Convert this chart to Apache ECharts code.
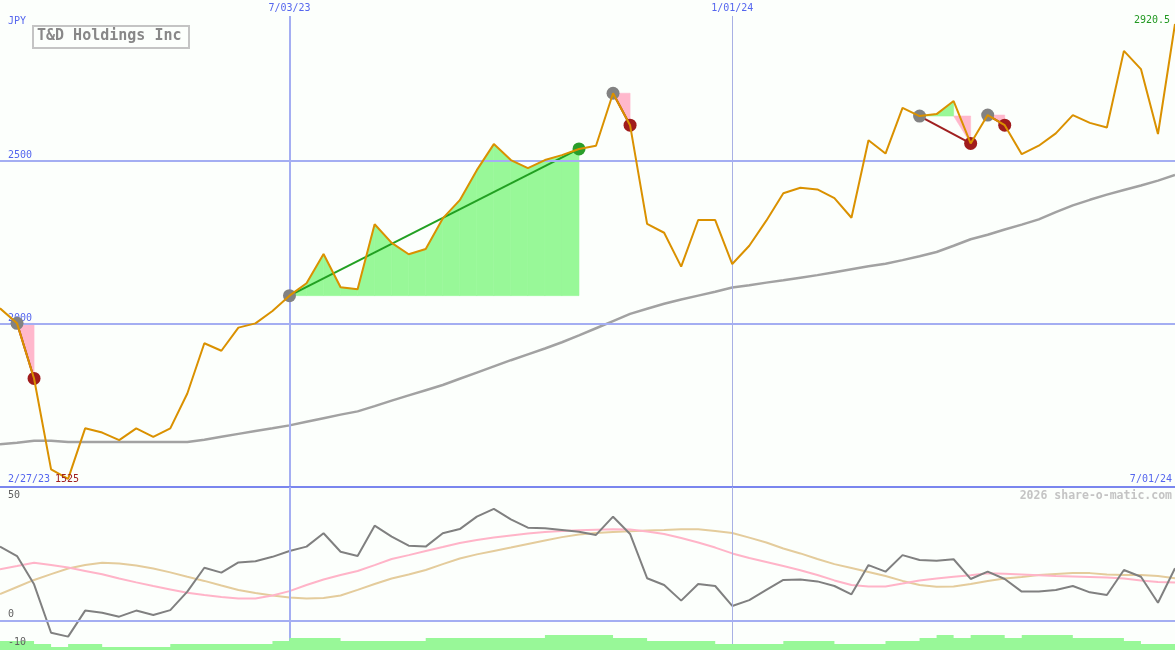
<!DOCTYPE html>
<html><head><meta charset="utf-8">
<script src="https://cdn.jsdelivr.net/npm/echarts@6/dist/echarts.min.js"></script>
<style>html,body{margin:0;padding:0;background:#fcfffc}#c{width:1175px;height:650px}</style>
</head><body><div id="c"></div>
<script>
// ---- data (weekly) ----
const dates = ['3/06/23','3/13/23','3/20/23','3/27/23','4/03/23','4/10/23','4/17/23','4/24/23','5/01/23','5/08/23',
'5/15/23','5/22/23','5/29/23','6/05/23','6/12/23','6/19/23','6/26/23','7/03/23','7/10/23','7/17/23',
'7/24/23','7/31/23','8/07/23','8/14/23','8/21/23','8/28/23','9/04/23','9/11/23','9/18/23','9/25/23',
'10/02/23','10/09/23','10/16/23','10/23/23','10/30/23','11/06/23','11/13/23','11/20/23','11/27/23','12/04/23',
'12/11/23','12/18/23','12/25/23','1/01/24','1/08/24','1/15/24','1/22/24','1/29/24','2/05/24','2/12/24',
'2/19/24','2/26/24','3/04/24','3/11/24','3/18/24','3/25/24','4/01/24','4/08/24','4/15/24','4/22/24',
'4/29/24','5/06/24','5/13/24','5/20/24','5/27/24','6/03/24','6/10/24','6/17/24','6/24/24','7/01/24'];
const price = [2048,2002,1833,1554,1525,1680,1667,1644,1680,1654,
1680,1787,1941,1918,1989,2002,2040,2087,2125,2215,
2113,2107,2306,2249,2214,2230,2324,2380,2472,2552,
2503,2478,2503,2518,2537,2547,2708,2610,2307,2280,
2176,2319,2319,2184,2240,2317,2401,2418,2413,2386,
2326,2564,2523,2663,2638,2644,2684,2554,2641,2610,
2521,2547,2585,2641,2617,2603,2838,2782,2583,2920.5];
const movingAvg = [1631,1636,1642,1642,1638,1638,1638,1638,1638,1638,
1638,1638,1645,1654,1663,1672,1680,1689,1700,1711,
1722,1732,1748,1765,1781,1797,1813,1832,1851,1870,
1889,1907,1925,1944,1965,1987,2009,2031,2047,2062,
2075,2087,2099,2112,2119,2127,2134,2142,2150,2159,
2168,2177,2185,2196,2208,2221,2240,2260,2274,2290,
2305,2321,2343,2364,2381,2397,2411,2425,2440,2457];
const oscGray = [30.5,26.6,15,-4.9,-6.5,4.2,3.3,1.7,4.2,2.4,
4.4,12,21.8,19.8,24,24.5,26.3,28.7,30.5,36,
28.4,26.6,39.1,34.6,30.9,30.5,36,37.7,42.8,46,
41.7,38.3,38,37.3,36.6,35.3,42.8,35.7,17.5,14.7,
8.3,15.1,14.3,6.1,8.5,12.7,16.8,17,16.2,14.3,
10.9,22.9,20.2,27,25,24.7,25.3,17.2,20.2,17.2,
12,12,12.7,14.3,11.7,10.6,20.9,18.1,7.4,21.6];
const oscPink = [21.2,22.5,23.9,22.9,21.9,20.5,19.1,17.4,15.8,14.3,
12.9,11.5,10.6,9.8,9.2,9.2,10.4,12.2,14.7,17,
18.8,20.5,22.9,25.4,27,28.7,30.3,32,33.2,34.2,
35.1,35.9,36.5,36.9,37.2,37.4,37.6,37.5,36.7,35.7,
34,32.2,30.1,27.7,25.8,24.2,22.5,20.8,18.8,16.6,
14.7,14.1,14.1,15.3,16.6,17.4,18.1,18.7,19.5,19.3,
19,18.7,18.4,18.2,18,17.8,17.4,16.6,16,15.7];
const oscTan = [11,13.9,16.8,19.2,21.5,22.9,23.9,23.6,22.7,21.5,
19.9,18.1,16.4,14.5,12.7,11.4,10.4,9.6,9.2,9.4,
10.4,12.7,15.1,17.4,19,20.9,23.3,25.6,27.3,28.7,
30.1,31.6,33,34.4,35.5,36.1,36.5,36.8,37.1,37.3,
37.6,37.6,36.9,36.1,34.2,32.2,29.7,27.7,25.4,23.3,
21.7,20.1,18.4,16.4,14.7,14,14.1,15.1,16.4,17.4,
18,18.8,19.2,19.6,19.6,19,18.8,18.8,18.4,17.5];
const volumeLevel = [3,3,2,1,2,2,1,1,1,1,
2,2,2,2,2,2,3,4,4,4,
3,3,3,3,3,4,4,4,4,4,
4,4,5,5,5,5,4,4,3,3,
3,3,2,2,2,2,3,3,3,2,
2,2,3,3,4,5,4,5,5,4,
5,5,5,4,4,4,3,2,2,2];
// trades: [start index, end index]
const trades = [[1,2],[17,34],[36,37],[54,57],[58,59]];
const markedDates = ['7/03/23','1/01/24'];
const priceLines = [2000, 2500];
const oscLabels = [50, 0, -10];
const firstDateLabel = '2/27/23', lastDateLabel = '7/01/24';
const lowLabel = '1525', lastLabel = '2920.5';

// ---- styling ----
const BLUE = '#5566ee', GRIDBLUE = '#a4aef2', DARKBLUE = '#7a86ee';
const GREEN_FILL = '#98f898', PINK_FILL = '#ffb8cc';
const MONO = 'DejaVu Sans Mono';
const LINE = (c, w) => ({ color: c, width: w, type: 'solid' });

const fillSegs = [];
trades.forEach(([s, e]) => {
  const L = price[s];
  for (let i = s; i < e; i++) {
    const win = price[i + 1] >= L;
    const a = win ? Math.max(price[i], L) : Math.min(price[i], L);
    fillSegs.push([i, L, a, price[i + 1], win ? 1 : 0]);
  }
});

const series = [];
series.push({
  type: 'custom', xAxisIndex: 0, yAxisIndex: 0, z: 1, silent: true,
  data: fillSegs, encode: { x: 0, y: [1, 2, 3] },
  renderItem: (params, api) => {
    const i = api.value(0), L = api.value(1), a = api.value(2), b = api.value(3), win = api.value(4);
    const c = win ? GREEN_FILL : PINK_FILL;
    return { type: 'polygon',
      shape: { points: [api.coord([i, L]), api.coord([i, a]), api.coord([i + 1, b]), api.coord([i + 1, L])] },
      style: { fill: c, stroke: c, lineWidth: 0.6 } };
  }
});
series.push({
  type: 'line', xAxisIndex: 0, yAxisIndex: 0, z: 3, data: movingAvg, symbol: 'none',
  lineStyle: { color: '#a2a2a2', width: 2.5 }, silent: true,
  markLine: { silent: true, symbol: 'none', label: { show: false }, animation: false,
    data: [
      [{ coord: [markedDates[0], 2945], lineStyle: LINE(GRIDBLUE, 2) }, { coord: [markedDates[0], 1500] }],
      [{ coord: [markedDates[1], 2945], lineStyle: LINE('#a8b0e4', 1) }, { coord: [markedDates[1], 1500] }],
      { yAxis: 1500, lineStyle: LINE(DARKBLUE, 2) }
    ].concat(priceLines.map(v => ({
      yAxis: v, lineStyle: LINE(GRIDBLUE, 2),
      label: { show: true, position: 'insideStartTop', formatter: String(v), color: BLUE,
        fontFamily: MONO, fontSize: 10, distance: [8, 1], padding: 0 }
    }))) }
});
trades.forEach(([s, e]) => {
  const win = price[e] >= price[s];
  series.push({ type: 'line', xAxisIndex: 0, yAxisIndex: 0, z: 4, symbol: 'none', silent: true,
    data: [[s, price[s]], [e, price[e]]], lineStyle: { color: win ? '#22a022' : '#a02020', width: 2 } });
});
series.push({ type: 'scatter', xAxisIndex: 0, yAxisIndex: 0, z: 5, symbolSize: 13, silent: true,
  data: trades.map(([s]) => [s, price[s]]), itemStyle: { color: '#828282', opacity: 1 } });
series.push({ type: 'scatter', xAxisIndex: 0, yAxisIndex: 0, z: 5, symbolSize: 13, silent: true,
  data: trades.map(([s, e]) => ({ value: [e, price[e]],
    itemStyle: { color: price[e] >= price[s] ? '#2a9e2a' : '#a01c1c', opacity: 1 } })) });
series.push({ type: 'line', xAxisIndex: 0, yAxisIndex: 0, z: 6, data: price, symbol: 'none', silent: true,
  lineStyle: { color: '#da9100', width: 2 } });

// lower panel
series.push({ type: 'line', xAxisIndex: 1, yAxisIndex: 1, z: 2, data: oscTan, symbol: 'none', silent: true,
  lineStyle: { color: '#e4cc9c', width: 2 },
  markLine: { silent: true, symbol: 'none', label: { show: false }, animation: false,
    data: [
      { xAxis: markedDates[0], lineStyle: LINE(GRIDBLUE, 2) },
      { xAxis: markedDates[1], lineStyle: LINE('#a8b0e4', 1) },
      { yAxis: 0, lineStyle: LINE(GRIDBLUE, 2) }
    ] } });
series.push({ type: 'line', xAxisIndex: 1, yAxisIndex: 1, z: 3, data: oscPink, symbol: 'none', silent: true,
  lineStyle: { color: '#ffb4c8', width: 2 } });
series.push({ type: 'line', xAxisIndex: 1, yAxisIndex: 1, z: 4, data: oscGray, symbol: 'none', silent: true,
  lineStyle: { color: '#808080', width: 2 } });
series.push({ type: 'line', xAxisIndex: 1, yAxisIndex: 2, z: 5, data: volumeLevel, symbol: 'none', step: 'end', silent: true,
  lineStyle: { width: 0 }, areaStyle: { color: GREEN_FILL, opacity: 1 } });

const chart = echarts.init(document.getElementById('c'), null, { renderer: 'canvas' });
chart.setOption({
  animation: false,
  backgroundColor: '#fcfffc',
  grid: [
    { left: 0, right: 0, top: 0, height: 487, containLabel: false, outerBoundsMode: 'none' },
    { left: 0, right: 0, top: 487, height: 163, containLabel: false, outerBoundsMode: 'none' }
  ],
  xAxis: [
    { type: 'category', gridIndex: 0, data: dates, boundaryGap: false, position: 'top',
      axisLine: { show: false }, axisTick: { show: false }, splitLine: { show: false },
      axisLabel: { inside: true, margin: 3, color: BLUE, fontFamily: MONO, fontSize: 10,
        interval: (idx, val) => markedDates.includes(val) } },
    { type: 'category', gridIndex: 1, data: dates, boundaryGap: false, show: false }
  ],
  yAxis: [
    { type: 'value', gridIndex: 0, min: 1500, max: 2994, show: false, splitLine: { show: false } },
    { type: 'value', gridIndex: 1, min: -12, max: 55, show: false, splitLine: { show: false } },
    { type: 'value', gridIndex: 1, min: 0, max: 163 / 3, show: false, splitLine: { show: false } }
  ],
  graphic: [
    { type: 'text', left: 8, top: 16, z: 21, style: { text: 'JPY', fill: BLUE, font: '10px ' + MONO } },
    { type: 'rect', left: 32, top: 25, shape: { width: 156, height: 22 },
      style: { fill: '#fcfffc', stroke: '#c4c4c4', lineWidth: 2 }, z: 20 },
    { type: 'text', left: 37, top: 29, z: 21,
      style: { text: 'T&D Holdings Inc', fill: '#888888', font: 'bold 15px ' + MONO } },
    { type: 'text', right: 5, top: 15, z: 21, style: { text: lastLabel, fill: '#229922', font: '10px ' + MONO } },
    { type: 'text', left: 8, top: 474, z: 21, style: { text: firstDateLabel, fill: BLUE, font: '10px ' + MONO } },
    { type: 'text', left: 55, top: 474, z: 21, style: { text: lowLabel, fill: '#a02020', font: '10px ' + MONO } },
    { type: 'text', right: 3, top: 474, z: 21, style: { text: lastDateLabel, fill: BLUE, font: '10px ' + MONO } },
    { type: 'text', right: 3, top: 490, z: 21, style: { text: '2026 share-o-matic.com', fill: '#c4c4c4', font: 'bold 11.5px ' + MONO } },
    { type: 'text', left: 8, top: 490, z: 21, style: { text: String(oscLabels[0]), fill: '#606060', font: '10px ' + MONO } },
    { type: 'text', left: 8, top: 609, z: 21, style: { text: String(oscLabels[1]), fill: '#606060', font: '10px ' + MONO } },
    { type: 'text', left: 8, top: 637, z: 21, style: { text: String(oscLabels[2]), fill: '#606060', font: '10px ' + MONO } }
  ],
  series: series
});
</script>
</body></html>
